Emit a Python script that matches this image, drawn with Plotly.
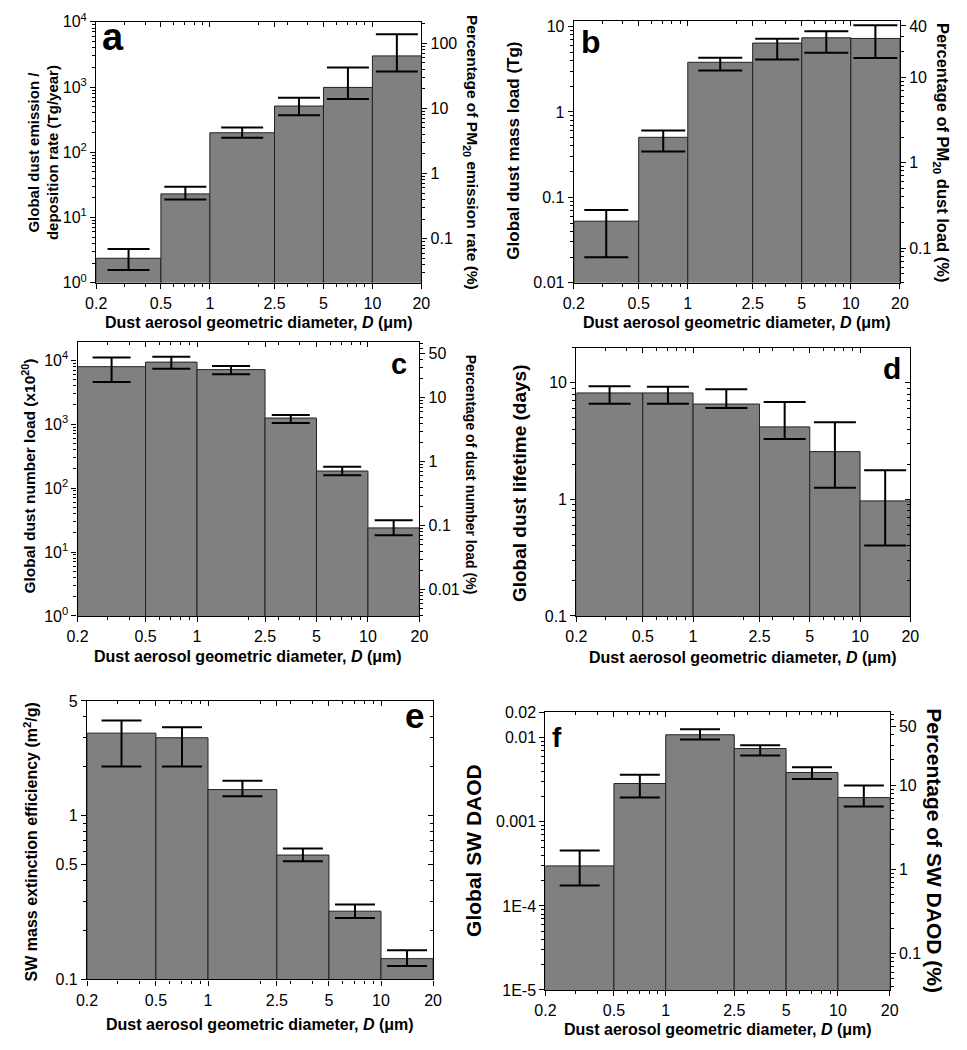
import numpy as np
import plotly.graph_objects as go

# ---------------- data ----------------
bin_edges = [0.2, 0.5, 1, 2.5, 5, 10, 20]
x_tick_labels = ["0.2", "0.5", "1", "2.5", "5", "10", "20"]
x_minor_ticks = [0.3, 0.4, 0.6, 0.7, 0.8, 0.9, 2, 3, 4, 6, 7, 8, 9]

emission = [2.37, 23, 199, 511, 986, 3000]
emission_lo = [1.57, 18.9, 167, 370, 658, 1737]
emission_hi = [3.3, 29.6, 239, 682, 2000, 6450]

mass_load = [0.0526, 0.505, 3.82, 6.42, 7.40, 7.27]
mass_lo = [0.0199, 0.345, 3.06, 4.13, 4.93, 4.28]
mass_hi = [0.0711, 0.608, 4.32, 7.21, 8.83, 10.4]

number_load = [7900, 9310, 7110, 1244, 184.5, 23.8]
number_lo = [4540, 7360, 6030, 1042, 158, 18.3]
number_hi = [10990, 11250, 8090, 1384, 215, 31.5]

lifetime = [8.19, 8.19, 6.58, 4.19, 2.57, 0.971]
lifetime_lo = [6.62, 6.62, 6.09, 3.30, 1.26, 0.402]
lifetime_hi = [9.37, 9.25, 8.79, 6.84, 4.59, 1.78]

mee = [3.18, 2.98, 1.44, 0.574, 0.261, 0.134]
mee_lo = [1.99, 1.99, 1.31, 0.526, 0.237, 0.121]
mee_hi = [3.80, 3.45, 1.63, 0.629, 0.287, 0.151]

daod = [2.99e-4, 2.85e-3, 0.01084, 7.43e-3, 3.86e-3, 1.94e-3]
daod_lo = [1.75e-4, 1.94e-3, 0.00955, 6.15e-3, 3.23e-3, 1.52e-3]
daod_hi = [4.57e-4, 3.62e-3, 0.0126, 8.13e-3, 4.46e-3, 2.70e-3]

ticks_a = [1, 10, 100, 1000, 10000]
labels_a = ["10<sup>0</sup>", "10<sup>1</sup>", "10<sup>2</sup>", "10<sup>3</sup>", "10<sup>4</sup>"]
ticks_a_pct = [0.1, 1, 10, 100]
ticks_b = [0.01, 0.1, 1, 10]
labels_b = ["0.01", "0.1", "1", "10"]
ticks_b_pct = [0.1, 1, 10, 40]
ticks_c = [1, 10, 100, 1000, 10000]
labels_c = labels_a
ticks_c_pct = [0.01, 0.1, 1, 10, 50]
ticks_d = [0.1, 1, 10]
labels_d = ["0.1", "1", "10"]
ticks_e = [0.1, 0.5, 1, 5]
labels_e = ["0.1", "0.5", "1", "5"]
ticks_f = [1e-5, 1e-4, 1e-3, 0.01, 0.02]
labels_f = ["1E-5", "1E-4", "0.001", "0.01", "0.02"]
ticks_f_pct = [0.1, 1, 10, 50]

FONT = "Liberation Sans, Arial, sans-serif"
W, H = 967, 1050

def fx(px):
    return px / W

def fy(py):
    return 1 - py / H

def log_minor(lo, hi, majors):
    out = []
    for d in range(int(np.floor(np.log10(lo))) - 1, int(np.ceil(np.log10(hi))) + 1):
        for m in range(2, 10):
            v = m * 10.0 ** d
            if lo * 0.999 <= v <= hi * 1.001 and not any(abs(v - t) / t < 1e-6 for t in majors):
                out.append(v)
    return out

def fmt_pct(v):
    return ("%g" % v)

le = np.log10(bin_edges)
centers = (le[:-1] + le[1:]) / 2
widths = le[1:] - le[:-1]

fig = go.Figure()
layout = dict(
    width=W, height=H, margin=dict(l=0, r=0, t=0, b=0),
    paper_bgcolor="white", plot_bgcolor="white", showlegend=False,
    font=dict(family=FONT, color="black"),
)
annotations = []

panels = [
    dict(key="a", vals=emission, lo=emission_lo, hi=emission_hi,
         xd=(87, 419), yd=(11, 277), yr=(1, 1e4), yt=ticks_a, yl=labels_a,
         pct=ticks_a_pct, capw=21),
    dict(key="b", vals=mass_load, lo=mass_lo, hi=mass_hi,
         xd=(574.7, 907.7), yd=(10, 277), yr=(0.01, 11.7), yt=ticks_b, yl=labels_b,
         pct=ticks_b_pct, capw=22),
    dict(key="c", vals=number_load, lo=number_lo, hi=number_hi,
         xd=(68, 417), yd=(337, 616.7), yr=(1, 1.95e4), yt=ticks_c, yl=labels_c,
         pct=ticks_c_pct, capw=19),
    dict(key="d", vals=lifetime, lo=lifetime_lo, hi=lifetime_hi,
         xd=(577.3, 918.3), yd=(343.3, 616.7), yr=(0.1, 20), yt=ticks_d, yl=labels_d,
         pct=None, capw=21),
    dict(key="e", vals=mee, lo=mee_lo, hi=mee_hi,
         xd=(77.7, 431), yd=(703.3, 987.3), yr=(0.1, 5), yt=ticks_e, yl=labels_e,
         pct=None, capw=20),
    dict(key="f", vals=daod, lo=daod_lo, hi=daod_hi,
         xd=(545.7, 897.3), yd=(715, 998), yr=(1e-5, 0.02), yt=ticks_f, yl=labels_f,
         pct=ticks_f_pct, capw=20),
]

TICKFS = 16
tickfont = dict(family=FONT, size=TICKFS, color="black")
tick_common = dict(tickwidth=1.2, tickcolor="black", showgrid=False, zeroline=False)
n = len(panels)
extra_y = n + 1
for i, p in enumerate(panels, start=1):
    xs = "" if i == 1 else str(i)
    xtop = str(n + i)
    v = np.array(p["vals"])
    lo = np.array(p["lo"])
    hi = np.array(p["hi"])
    fig.add_trace(go.Bar(
        x=centers, y=v, width=widths, xaxis="x" + xs, yaxis="y" + xs,
        marker=dict(color="#808080", line=dict(color="#222222", width=1)),
        error_y=dict(type="data", symmetric=False, array=hi - v, arrayminus=v - lo,
                     color="black", thickness=2, width=p["capw"]),
        hoverinfo="skip",
    ))
    xminor = list(np.log10(x_minor_ticks))
    layout["xaxis" + xs] = dict(
        domain=[fx(p["xd"][0]), fx(p["xd"][1])], anchor="y" + xs,
        range=[le[0], le[-1]], tickmode="array", tickvals=list(le), ticktext=x_tick_labels,
        ticks="outside", ticklen=5, showline=True, linecolor="black", linewidth=1.3,
        mirror=True, tickfont=tickfont, ticklabelstandoff=1,
        minor=dict(tickmode="array", tickvals=xminor, ticks="outside", ticklen=3,
                   tickwidth=1, tickcolor="black", showgrid=False),
        **tick_common,
    )
    # top axis: ticks pointing into the plot, no labels
    fig.add_trace(go.Scatter(
        x=centers, y=v, xaxis="x" + xtop, yaxis="y" + xs, mode="markers",
        marker=dict(opacity=0, size=1), hoverinfo="skip",
    ))
    layout["xaxis" + xtop] = dict(
        overlaying="x" + xs, side="top", anchor="y" + xs,
        range=[le[0], le[-1]], tickmode="array", tickvals=list(le),
        showticklabels=False, ticks="inside", ticklen=5, showline=False,
        minor=dict(tickmode="array", tickvals=xminor, ticks="inside", ticklen=3,
                   tickwidth=1, tickcolor="black", showgrid=False),
        **tick_common,
    )
    ylo, yhi = p["yr"]
    yminor = log_minor(ylo, yhi, p["yt"])
    layout["yaxis" + xs] = dict(
        domain=[fy(p["yd"][1]), fy(p["yd"][0])], anchor="x" + xs, type="log",
        range=[np.log10(ylo), np.log10(yhi)], tickmode="array", tickvals=p["yt"],
        ticktext=p["yl"], ticks="outside", ticklen=5,
        showline=True, linecolor="black", linewidth=1.3, mirror=True,
        tickfont=tickfont,
        minor=dict(tickmode="array", tickvals=yminor, ticks="outside", ticklen=3,
                   tickwidth=1, tickcolor="black", showgrid=False),
        **tick_common,
    )
    rs = str(extra_y)
    extra_y += 1
    if p["pct"]:
        total = v.sum()
        pct = v / total * 100
        plo, phi = ylo / total * 100, yhi / total * 100
        fig.add_trace(go.Scatter(
            x=centers, y=pct, xaxis="x" + xs, yaxis="y" + rs, mode="markers",
            marker=dict(opacity=0, size=1), hoverinfo="skip",
        ))
        layout["yaxis" + rs] = dict(
            overlaying="y" + xs, side="right", anchor="x" + xs, type="log",
            range=[np.log10(plo), np.log10(phi)], tickmode="array",
            tickvals=p["pct"], ticktext=[fmt_pct(t) for t in p["pct"]],
            ticks="outside", ticklen=5, showline=False, tickfont=tickfont,
            minor=dict(tickmode="array", tickvals=log_minor(plo, phi, p["pct"]),
                       ticks="outside", ticklen=3, tickwidth=1, tickcolor="black",
                       showgrid=False),
            **tick_common,
        )
    else:
        fig.add_trace(go.Scatter(
            x=centers, y=v, xaxis="x" + xs, yaxis="y" + rs, mode="markers",
            marker=dict(opacity=0, size=1), hoverinfo="skip",
        ))
        layout["yaxis" + rs] = dict(
            overlaying="y" + xs, side="right", anchor="x" + xs, type="log",
            range=[np.log10(ylo), np.log10(yhi)], tickmode="array", tickvals=p["yt"],
            showticklabels=False, ticks="inside", ticklen=5, showline=False,
            minor=dict(tickmode="array", tickvals=yminor, ticks="inside", ticklen=3,
                       tickwidth=1, tickcolor="black", showgrid=False),
            **tick_common,
        )

def ann(text, x, y, size, angle=0, bold=True):
    annotations.append(dict(
        text=("<b>%s</b>" % text) if bold else text, x=fx(x), y=fy(y),
        xref="paper", yref="paper", xanchor="center", yanchor="middle",
        showarrow=False, textangle=angle,
        font=dict(family=FONT, size=size, color="black"),
    ))

xtitle = "Dust aerosol geometric diameter, <i>D</i> (\u03bcm)"
ann(xtitle, 253, 318, 16)
ann(xtitle, 741, 318, 16)
ann(xtitle, 242.5, 658, 16)
ann(xtitle, 747.8, 659, 16)
ann(xtitle, 254, 1033, 16)
ann(xtitle, 721.5, 1038, 16)

# left titles
ann("Global dust emission /<br>deposition rate (Tg/year)", 32.5, 144, 15, -90)
ann("Global dust mass load (Tg)", 513, 142, 17, -90)
ann("Global dust number load (x10<sup>20</sup>)", 18, 474, 15.5, -90)
ann("Global dust lifetime (days)", 520, 481, 19, -90)
ann("SW mass extinction efficiency (m<sup>2</sup>/g)", 20, 847, 16, -90)
ann("Global SW DAOD", 472, 856, 21, -90)

# right titles
ann("Percentage of PM<sub>20</sub> emission rate (%)", 470, 144, 15.5, 90)
ann("Percentage of PM<sub>20</sub> dust load (%)", 950, 144, 16.5, 90)
ann("Percentage of dust number load (%)", 470, 473, 14, 90)
ann("Percentage of SW DAOD (%)", 943, 856, 21, 90)

# panel letters
ann("a", 104, 40 - 0.35 * 38, 38)
ann("b", 592, 43 - 0.35 * 32, 32)
ann("c", 396, 370 - 0.35 * 29, 29)
ann("d", 900, 375 - 0.35 * 30, 30)
ann("e", 412, 730 - 0.35 * 35, 35)
ann("f", 558, 750 - 0.35 * 28, 28)

layout["annotations"] = annotations
fig.update_layout(**layout)
fig.write_html(
    "out.html",
    config={"displayModeBar": False},
    post_script="document.body.style.margin='0';document.body.style.overflow='hidden';",
)
